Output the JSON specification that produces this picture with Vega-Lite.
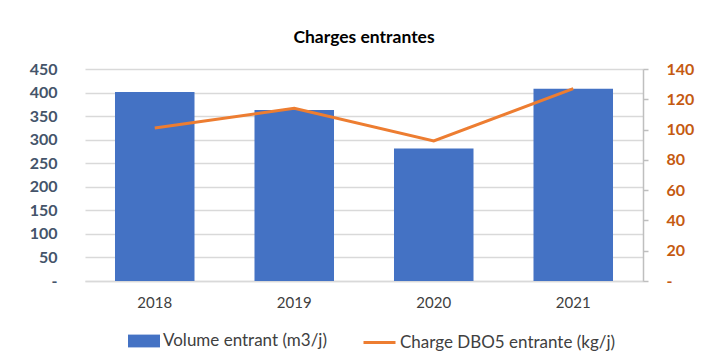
{
  "$schema": "https://vega.github.io/schema/vega-lite/v6.json",
  "width": 558,
  "height": 212,
  "autosize": "none",
  "padding": {"left": 85, "top": 69, "right": 60, "bottom": 75},
  "background": "white",
  "title": {"text": "Charges entrantes", "font": "Lato", "fontSize": 17.5, "fontWeight": "bold", "color": "#000000", "offset": 15, "anchor": "middle"},
  "config": {"view": {"stroke": null}, "font": "Lato"},
  "data": {"values": [
    {"year": "2018", "volume": 401, "dbo5": 101},
    {"year": "2019", "volume": 363, "dbo5": 114},
    {"year": "2020", "volume": 281, "dbo5": 92.5},
    {"year": "2021", "volume": 408, "dbo5": 127}
  ]},
  "encoding": {
    "x": {"field": "year", "type": "nominal", "scale": {"paddingInner": 0.43, "paddingOuter": 0.215},
      "axis": {"title": null, "labelAngle": 0, "labelFont": "Lato", "labelFontSize": 15, "labelColor": "#404040", "labelPadding": 14, "ticks": false, "domainColor": "#D9D9D9", "domainWidth": 1.5}}
  },
  "layer": [
    {
      "mark": {"type": "bar", "color": "#4472C4"},
      "encoding": {
        "y": {"field": "volume", "type": "quantitative", "scale": {"domain": [0, 450], "nice": false},
          "axis": {"title": null, "values": [0, 50, 100, 150, 200, 250, 300, 350, 400, 450], "domain": false, "ticks": false, "gridColor": "#D9D9D9", "gridWidth": 1.5, "labelFont": "Lato", "labelFontSize": 16, "labelFontWeight": "bold", "labelColor": "#44546A", "labelPadding": 28, "labelExpr": "datum.value == 0 ? '-\u00a0\u00a0' : datum.label"}},
        "color": {"datum": "Volume entrant (m3/j)", "type": "nominal", "scale": {"range": ["#4472C4"]},
          "legend": {"title": null, "orient": "none", "legendX": 43, "legendY": 256, "symbolType": "M-1,-0.4L1,-0.4L1,0.4L-1,0.4Z", "symbolSize": 1024, "symbolStrokeWidth": 0, "labelFont": "Lato", "labelFontSize": 17, "labelColor": "#404040", "labelOffset": 3, "labelLimit": 400}}
      }
    },
    {
      "mark": {"type": "line", "color": "#ED7D31", "strokeWidth": 3},
      "encoding": {
        "y": {"field": "dbo5", "type": "quantitative", "scale": {"domain": [0, 140], "nice": false},
          "axis": {"title": null, "orient": "right", "values": [0, 20, 40, 60, 80, 100, 120, 140], "grid": false, "domain": true, "domainColor": "#BFBFBF", "domainWidth": 1.5, "ticks": true, "tickColor": "#BFBFBF", "tickSize": 5, "tickWidth": 1.5, "labelFont": "Lato", "labelFontSize": 16, "labelFontWeight": "bold", "labelColor": "#C55A11", "labelPadding": 18, "labelExpr": "datum.value == 0 ? '-' : datum.label"}},
        "stroke": {"datum": "Charge DBO5 entrante (kg/j)", "type": "nominal", "scale": {"range": ["#ED7D31"]},
          "legend": {"title": null, "orient": "none", "legendX": 277, "legendY": 256, "symbolType": "stroke", "symbolSize": 1024, "symbolStrokeWidth": 3, "labelFont": "Lato", "labelFontSize": 17, "labelColor": "#404040", "labelOffset": 3, "labelLimit": 400}}
      }
    }
  ],
  "resolve": {"scale": {"y": "independent", "color": "independent", "stroke": "independent"}}
}
